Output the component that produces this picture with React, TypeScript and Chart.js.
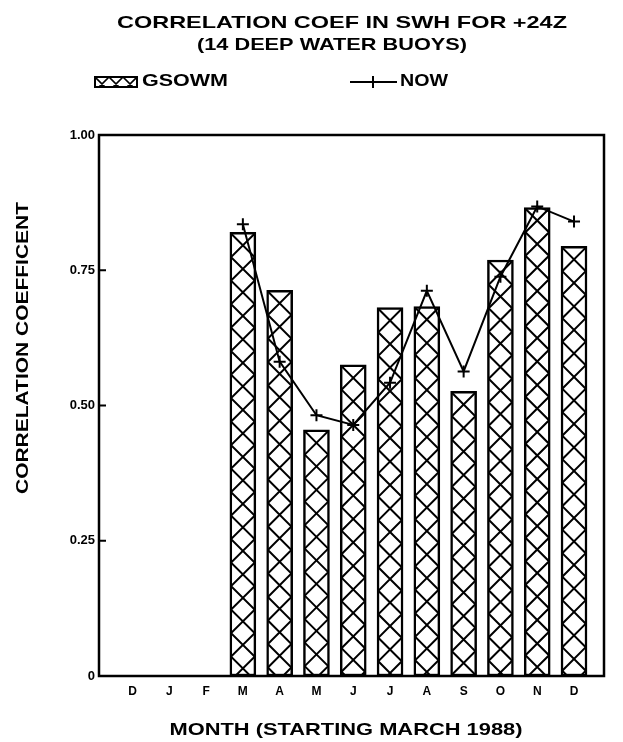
import { useEffect, useRef } from "react";
import { Chart, registerables } from "chart.js";

Chart.register(...registerables);

// Monthly correlation coefficients of significant wave height (+24Z forecast)
const MONTHS = ["D", "J", "F", "M", "A", "M", "J", "J", "A", "S", "O", "N", "D"];
const GSOWM: (number | null)[] = [null, null, null, 0.82, 0.713, 0.455, 0.575, 0.681, 0.683, 0.526, 0.769, 0.866, 0.794];
const NOW: (number | null)[] = [null, null, null, 0.835, 0.581, 0.482, 0.464, 0.542, 0.712, 0.563, 0.738, 0.868, 0.84];
const Y_TICKS = [0, 0.25, 0.5, 0.75, 1];
const Y_TICK_LABELS = ["0", "0.25", "0.50", "0.75", "1.00"];

const TITLE_1 = "CORRELATION COEF IN SWH FOR +24Z";
const TITLE_2 = "(14 DEEP WATER BUOYS)";
const X_TITLE = "MONTH (STARTING MARCH 1988)";
const Y_TITLE = "CORRELATION COEFFICENT";
const SERIES_1 = "GSOWM";
const SERIES_2 = "NOW";

const FONT = '"Liberation Sans", Arial, sans-serif';

// Draw text squeezed/stretched horizontally to a given width
function wideText(
  ctx: CanvasRenderingContext2D,
  text: string,
  cx: number,
  cy: number,
  width: number,
  size: number,
  rotate = 0
) {
  ctx.save();
  ctx.font = `bold ${size}px ${FONT}`;
  const w = ctx.measureText(text).width;
  ctx.translate(cx, cy);
  if (rotate) ctx.rotate(rotate);
  ctx.scale(width / w, 1);
  ctx.textAlign = "center";
  ctx.textBaseline = "middle";
  ctx.fillStyle = "#000";
  ctx.fillText(text, 0, 0);
  ctx.restore();
}

// Diagonal cross-hatch inside a rectangle, diamond cells of size p
function crossHatch(
  ctx: CanvasRenderingContext2D,
  left: number,
  top: number,
  right: number,
  bottom: number,
  p: number,
  lw: number
) {
  const w = right - left;
  const h = bottom - top;
  ctx.save();
  ctx.beginPath();
  ctx.rect(left, top, w, h);
  ctx.clip();
  ctx.translate(left, top);
  ctx.strokeStyle = "#000";
  ctx.lineWidth = lw;
  ctx.beginPath();
  for (let y = -w - p; y <= h + w + p; y += p) {
    ctx.moveTo(0, y);
    ctx.lineTo(w, y + w);
    ctx.moveTo(0, y);
    ctx.lineTo(w, y - w);
  }
  ctx.stroke();
  ctx.restore();
}

const decorPlugin = {
  id: "decor",
  afterDatasetDraw(chart: any, args: any) {
    if (args.meta.type !== "bar") return;
    const ctx = chart.ctx as CanvasRenderingContext2D;
    const bw = 2.5;
    GSOWM.forEach((v, i) => {
      if (v === null) return;
      const el = args.meta.data[i];
      const left = el.x - el.width / 2 + bw / 2;
      const right = el.x + el.width / 2 - bw / 2;
      const top = Math.min(el.y, el.base) + bw / 2;
      const bottom = Math.max(el.y, el.base);
      crossHatch(ctx, left, top, right, bottom, right - left, 2);
    });
  },
  afterDraw(chart: any) {
    const ctx = chart.ctx as CanvasRenderingContext2D;
    const a = chart.chartArea;
    const y = chart.scales.y;

    // plot frame
    ctx.save();
    ctx.strokeStyle = "#000";
    ctx.lineWidth = 2.5;
    ctx.strokeRect(a.left, a.top, a.right - a.left, a.bottom - a.top);

    // inward tick marks on the value axis
    ctx.lineWidth = 2;
    ctx.beginPath();
    Y_TICKS.forEach((t) => {
      if (t === 0 || t === 1) return;
      const py = y.getPixelForValue(t);
      ctx.moveTo(a.left, py);
      ctx.lineTo(a.left + 7, py);
    });
    ctx.stroke();
    ctx.restore();

    // titles
    wideText(ctx, TITLE_1, 342, 23, 450, 17);
    wideText(ctx, TITLE_2, 332, 45, 270, 17);
    wideText(ctx, X_TITLE, 346, 730, 353, 17);
    wideText(ctx, Y_TITLE, 24, 348, 292, 16, -Math.PI / 2);

    // legend: hatched box + GSOWM
    ctx.save();
    ctx.strokeStyle = "#000";
    ctx.lineWidth = 2;
    crossHatch(ctx, 95, 77, 137, 87, 14, 1.6);
    ctx.strokeRect(95, 77, 42, 10);
    ctx.restore();
    wideText(ctx, SERIES_1, 185, 82, 86, 16);

    // legend: line with plus marker + NOW
    ctx.save();
    ctx.strokeStyle = "#000";
    ctx.lineWidth = 2;
    ctx.beginPath();
    ctx.moveTo(350, 82);
    ctx.lineTo(397, 82);
    ctx.moveTo(373, 76);
    ctx.lineTo(373, 88);
    ctx.stroke();
    ctx.restore();
    wideText(ctx, SERIES_2, 424, 82, 48, 16);
  },
};

export default function App() {
  const ref = useRef<HTMLCanvasElement | null>(null);

  useEffect(() => {
    if (!ref.current) return;
    const chart = new Chart(ref.current, {
      type: "bar",
      data: {
        datasets: [
          {
            type: "line",
            label: SERIES_2,
            data: MONTHS.map((_, i) => ({ x: i, y: NOW[i] })) as any,
            borderColor: "#000",
            borderWidth: 2,
            tension: 0,
            pointStyle: "cross",
            pointRadius: 6,
            pointBorderWidth: 2,
            pointBorderColor: "#000",
            spanGaps: false,
            order: 0,
          },
          {
            type: "bar",
            label: SERIES_1,
            data: MONTHS.map((_, i) => ({ x: i, y: GSOWM[i] })) as any,
            backgroundColor: "#fff",
            borderColor: "#000",
            borderWidth: 2.5,
            borderSkipped: false,
            barThickness: 26,
            order: 1,
          },
        ],
      },
      options: {
        responsive: false,
        animation: false,
        layout: { padding: { left: 40, right: 19, top: 135, bottom: 40 } },
        plugins: {
          legend: { display: false },
          title: { display: false },
          tooltip: { enabled: false },
        },
        scales: {
          x: {
            type: "linear",
            min: -0.91,
            max: 12.815,
            offset: false,
            afterBuildTicks: (s: any) => {
              s.ticks = MONTHS.map((_, i) => ({ value: i }));
            },
            afterFit: (s: any) => {
              s.height = 26;
            },
            ticks: {
              autoSkip: false,
              maxRotation: 0,
              padding: 8,
              color: "#000",
              font: { family: FONT, size: 12, weight: "bold" },
              callback: (_v: any, i: number) => MONTHS[i],
            },
            grid: { display: false, drawTicks: false },
            border: { display: false },
          },
          y: {
            min: 0,
            max: 1,
            afterBuildTicks: (s: any) => {
              s.ticks = Y_TICKS.map((v) => ({ value: v }));
            },
            afterFit: (s: any) => {
              s.width = 59;
            },
            ticks: {
              padding: 4,
              color: "#000",
              font: { family: FONT, size: 13, weight: "bold" },
              callback: (_v: any, i: number) => Y_TICK_LABELS[i],
            },
            grid: { display: false, drawTicks: false },
            border: { display: false },
          },
        },
      },
      plugins: [decorPlugin],
    });
    return () => chart.destroy();
  }, []);

  return (
    <div style={{ position: "fixed", left: 0, top: 0, width: 623, height: 742, background: "#fff" }}>
      <canvas ref={ref} width={623} height={742} style={{ width: 623, height: 742, display: "block" }} />
    </div>
  );
}
